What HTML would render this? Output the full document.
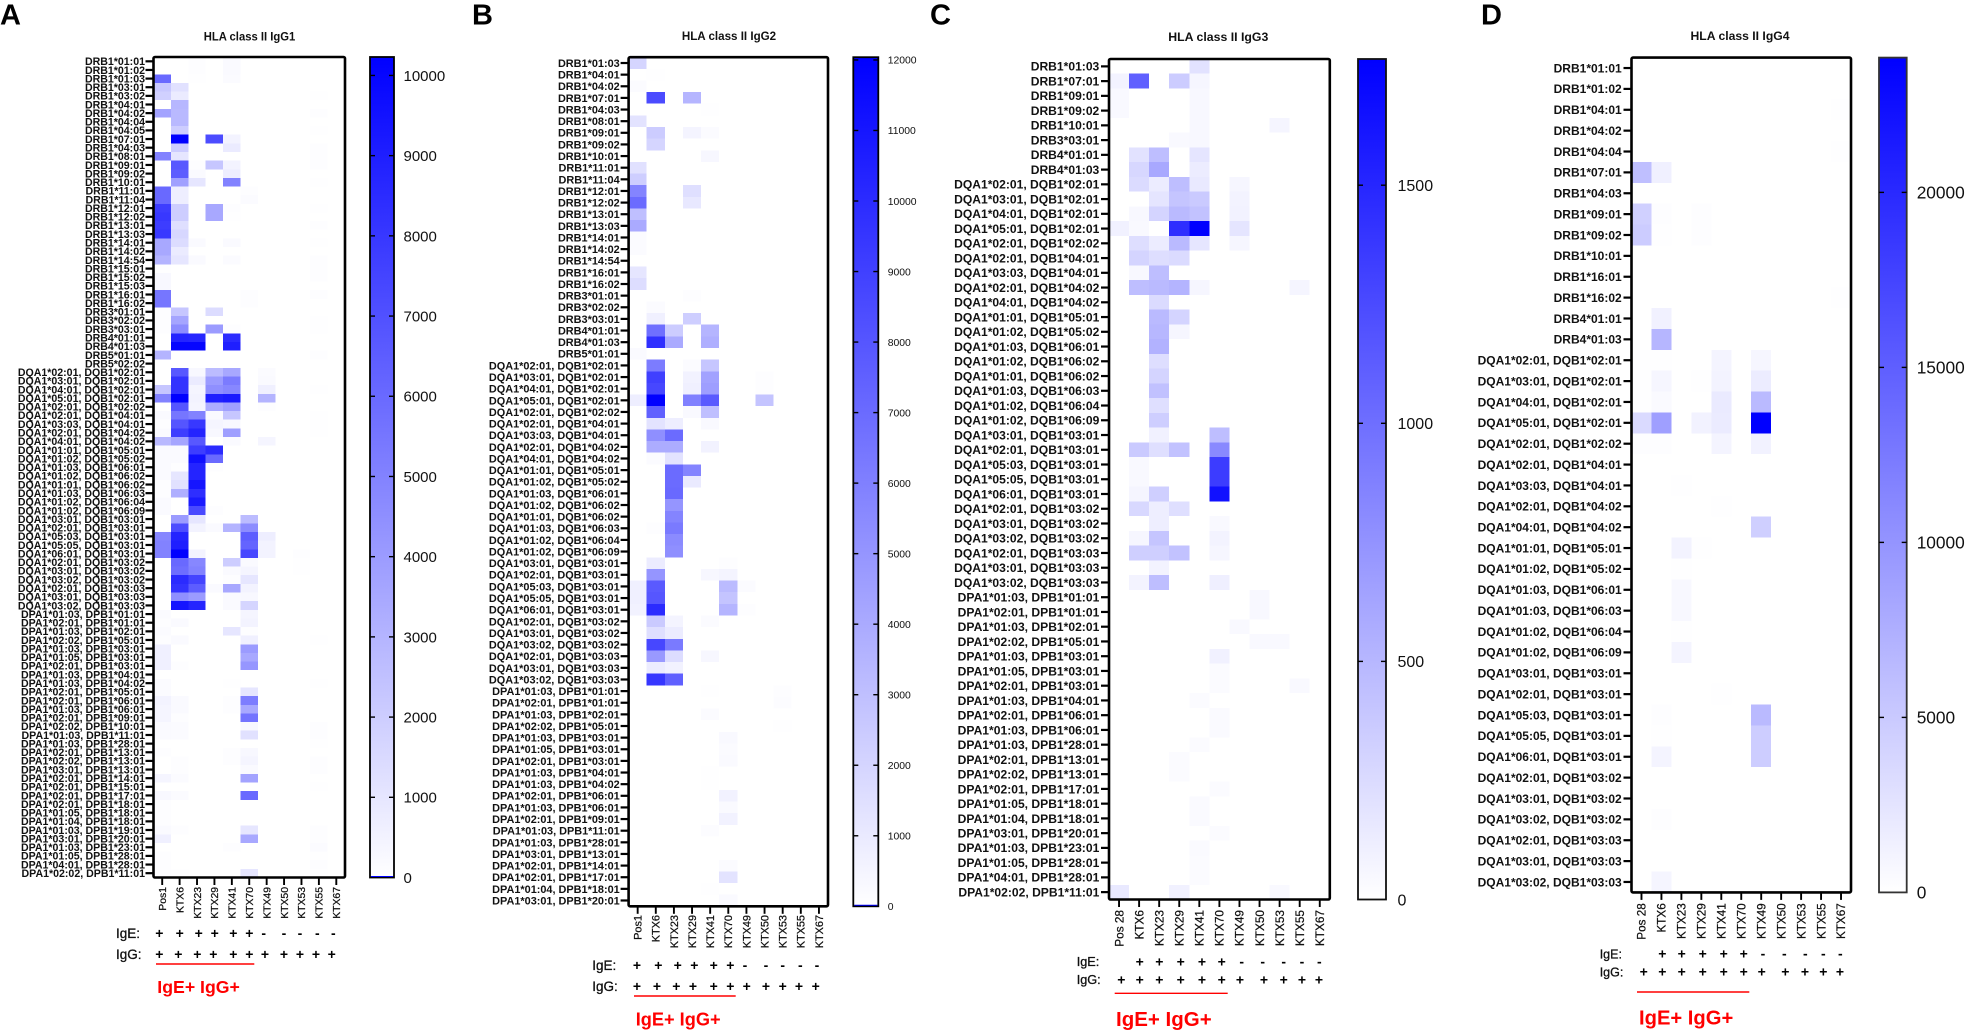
<!DOCTYPE html>
<html lang="en">
<head>
<meta charset="utf-8">
<title>HLA class II IgG1-4 heatmaps</title>
<style>
html,body{margin:0;padding:0;background:#fff;width:1966px;height:1035px;overflow:hidden}
svg{display:block;font-family:"Liberation Sans",Arial,sans-serif}
.letter{font-size:29px;font-weight:bold;fill:#000}
.title{font-size:11.5px;font-weight:bold;fill:#111;text-anchor:middle}
.iglabel{fill:#111;stroke:#111;stroke-width:.3}
.marks{font-size:14px;font-weight:bold;fill:#000;text-anchor:middle}
.red{fill:#f00;font-weight:bold}
</style>
</head>
<body>
<svg id="figure" xmlns="http://www.w3.org/2000/svg" width="1966" height="1035" viewBox="0 0 1966 1035">
<defs>
<linearGradient id="scale-gradient" x1="0" y1="1" x2="0" y2="0">
<stop offset="0" stop-color="#ffffff"/>
<stop offset="1" stop-color="#0000ff"/>
</linearGradient>
</defs>
<rect width="1966" height="1035" fill="#fff"/>

<g>
<text class="letter" x="0" y="24.7">A</text>
<text class="title" x="249.5" y="40.7" textLength="91.6" lengthAdjust="spacingAndGlyphs">HLA class II IgG1</text>
<text class="iglabel" x="116" y="938" font-size="13.5">IgE:</text>
<text class="iglabel" x="116" y="959" font-size="13.5">IgG:</text>
<text class="marks" x="159.3 179.7 198.7 214.7 233.3 249.3 263.7 284 300 317.3 333.3" y="938">++++++-----</text>
<text class="marks" x="159.3 178.3 197.3 213.3 233.3 249.3 265 284 300 316 331.7" y="959">+++++++++++</text>
<line x1="156" x2="254.3" y1="964" y2="964" stroke="#f00" stroke-width="1.4"/>
<text class="red" x="157.3" y="993" font-size="17.7">IgE+ IgG+</text>
</g>

<g>
<text class="letter" x="472" y="24.7">B</text>
<text class="title" x="729" y="40" textLength="94.3" lengthAdjust="spacingAndGlyphs">HLA class II IgG2</text>
<text class="iglabel" x="592.3" y="970" font-size="13.5">IgE:</text>
<text class="iglabel" x="592.3" y="991" font-size="13.5">IgG:</text>
<text class="marks" x="637 658.3 677.7 694.3 713.7 730.3 745 766 782.7 800.3 817" y="970">++++++-----</text>
<text class="marks" x="637 657 676.3 693 713.7 730.3 746.7 766 782.7 799 815.7" y="991">+++++++++++</text>
<line x1="634" x2="735.7" y1="996" y2="996" stroke="#f00" stroke-width="1.4"/>
<text class="red" x="635.7" y="1025.5" font-size="18.2">IgE+ IgG+</text>
</g>

<g>
<text class="letter" x="930" y="24.7">C</text>
<text class="title" x="1218.3" y="41" textLength="100" lengthAdjust="spacingAndGlyphs">HLA class II IgG3</text>
<text class="iglabel" x="1076.7" y="966" font-size="12.7">IgE:</text>
<text class="iglabel" x="1076.7" y="984" font-size="12.7">IgG:</text>
<text class="marks" x="1139.7 1159.3 1180.7 1202 1221.7 1241.7 1262.7 1283.7 1302 1319.3" y="966.5">+++++-----</text>
<text class="marks" x="1121.3 1139.7 1159.3 1180.7 1202 1221.7 1240 1264 1283.7 1302 1319" y="984.5">+++++++++++</text>
<line x1="1114.7" x2="1227.7" y1="993.3" y2="993.3" stroke="#f00" stroke-width="1.4"/>
<text class="red" x="1116" y="1026" font-size="20.5">IgE+ IgG+</text>
</g>

<g>
<text class="letter" x="1481" y="24.7">D</text>
<text class="title" x="1740" y="40" textLength="99" lengthAdjust="spacingAndGlyphs">HLA class II IgG4</text>
<text class="iglabel" x="1599.7" y="958.5" font-size="12.5">IgE:</text>
<text class="iglabel" x="1599.7" y="976.5" font-size="12.5">IgG:</text>
<text class="marks" x="1662.3 1681.7 1702.7 1723.7 1743.7 1763 1784.3 1805.3 1823.3 1840.3" y="958.7">+++++-----</text>
<text class="marks" x="1643.7 1662.3 1681.7 1702.7 1723.7 1743.7 1761.7 1785.3 1805 1823.3 1840" y="976.7">+++++++++++</text>
<line x1="1637" x2="1749.3" y1="992" y2="992" stroke="#f00" stroke-width="1.4"/>
<text class="red" x="1639" y="1024.7" font-size="20.2">IgE+ IgG+</text>
</g>
</svg>

<script>
const colsA = ['Pos1','KTX6','KTX23','KTX29','KTX41','KTX70','KTX49','KTX50','KTX53','KTX55','KTX67'];
const colsB = ['Pos1','KTX6','KTX23','KTX29','KTX41','KTX70','KTX49','KTX50','KTX53','KTX55','KTX67'];
const colsC = ['Pos 28','KTX6','KTX23','KTX29','KTX41','KTX70','KTX49','KTX50','KTX53','KTX55','KTX67'];
const colsD = ['Pos 28','KTX6','KTX23','KTX29','KTX41','KTX70','KTX49','KTX50','KTX53','KTX55','KTX67'];

const rowsA = ['DRB1*01:01','DRB1*01:02','DRB1*01:03','DRB1*03:01','DRB1*03:02','DRB1*04:01','DRB1*04:02','DRB1*04:04','DRB1*04:05','DRB1*07:01','DRB1*04:03','DRB1*08:01','DRB1*09:01','DRB1*09:02','DRB1*10:01','DRB1*11:01','DRB1*11:04','DRB1*12:01','DRB1*12:02','DRB1*13:01','DRB1*13:03','DRB1*14:01','DRB1*14:02','DRB1*14:54','DRB1*15:01','DRB1*15:02','DRB1*15:03','DRB1*16:01','DRB1*16:02','DRB3*01:01','DRB3*02:02','DRB3*03:01','DRB4*01:01','DRB4*01:03','DRB5*01:01','DRB5*02:02',
'DQA1*02:01, DQB1*02:01','DQA1*03:01, DQB1*02:01','DQA1*04:01, DQB1*02:01','DQA1*05:01, DQB1*02:01','DQA1*02:01, DQB1*02:02','DQA1*02:01, DQB1*04:01','DQA1*03:03, DQB1*04:01','DQA1*02:01, DQB1*04:02','DQA1*04:01, DQB1*04:02','DQA1*01:01, DQB1*05:01','DQA1*01:02, DQB1*05:02','DQA1*01:03, DQB1*06:01','DQA1*01:02, DQB1*06:02','DQA1*01:01, DQB1*06:02','DQA1*01:03, DQB1*06:03','DQA1*01:02, DQB1*06:04','DQA1*01:02, DQB1*06:09','DQA1*03:01, DQB1*03:01','DQA1*02:01, DQB1*03:01','DQA1*05:03, DQB1*03:01','DQA1*05:05, DQB1*03:01','DQA1*06:01, DQB1*03:01','DQA1*02:01, DQB1*03:02','DQA1*03:01, DQB1*03:02','DQA1*03:02, DQB1*03:02','DQA1*02:01, DQB1*03:03','DQA1*03:01, DQB1*03:03','DQA1*03:02, DQB1*03:03',
'DPA1*01:03, DPB1*01:01','DPA1*02:01, DPB1*01:01','DPA1*01:03, DPB1*02:01','DPA1*02:02, DPB1*05:01','DPA1*01:03, DPB1*03:01','DPA1*01:05, DPB1*03:01','DPA1*02:01, DPB1*03:01','DPA1*01:03, DPB1*04:01','DPA1*01:03, DPB1*04:02','DPA1*02:01, DPB1*05:01','DPA1*02:01, DPB1*06:01','DPA1*01:03, DPB1*06:01','DPA1*02:01, DPB1*09:01','DPA1*02:02, DPB1*10:01','DPA1*01:03, DPB1*11:01','DPA1*01:03, DPB1*28:01','DPA1*02:01, DPB1*13:01','DPA1*02:02, DPB1*13:01','DPA1*03:01, DPB1*13:01','DPA1*02:01, DPB1*14:01','DPA1*02:01, DPB1*15:01','DPA1*02:01, DPB1*17:01','DPA1*02:01, DPB1*18:01','DPA1*01:05, DPB1*18:01','DPA1*01:04, DPB1*18:01','DPA1*01:03, DPB1*19:01','DPA1*03:01, DPB1*20:01','DPA1*01:03, DPB1*23:01','DPA1*01:05, DPB1*28:01','DPA1*04:01, DPB1*28:01','DPA1*02:02, DPB1*11:01'];

const valuesA = [
[0,0,100,0,200,0,0,0,0,0,0],
[0,0,100,0,200,0,0,0,0,0,0],
[6000,0,50,0,150,0,0,0,0,0,0],
[2200,1200,0,0,0,0,0,0,0,0,0],
[1900,800,0,0,0,0,0,0,0,50,0],
[0,2900,0,0,0,0,0,0,0,0,0],
[3700,2800,0,0,0,0,0,0,0,80,0],
[0,2800,0,0,0,0,0,0,0,0,0],
[0,2000,0,0,0,0,0,0,0,50,0],
[0,10200,0,7200,500,0,0,0,0,0,0],
[0,2000,0,0,800,0,0,0,0,100,0],
[5000,1000,0,0,0,0,0,0,0,80,0],
[0,6700,100,2300,500,0,0,0,0,80,0],
[0,6500,200,0,700,0,0,0,0,0,0],
[0,3800,1000,0,5000,0,0,0,0,60,0],
[6000,700,0,0,0,100,0,0,0,0,0],
[6000,700,0,0,0,150,0,0,0,0,0],
[7800,2000,0,3500,100,0,0,0,0,50,0],
[8000,2000,0,3500,50,0,0,0,0,0,0],
[7800,1300,0,0,0,0,0,0,0,80,0],
[8000,1600,0,0,0,0,0,0,0,0,0],
[3500,1400,200,0,200,0,0,0,0,60,0],
[3500,800,0,0,0,0,0,0,0,0,0],
[3000,1000,200,0,150,0,0,0,0,80,0],
[50,0,0,0,0,0,0,0,0,80,0],
[300,0,0,0,0,0,0,0,0,80,0],
[300,0,0,0,0,0,0,0,0,0,0],
[5500,0,0,0,0,100,0,0,0,80,0],
[5500,0,0,0,0,100,0,0,0,0,0],
[100,2300,0,1400,0,0,0,0,0,0,0],
[100,3600,0,0,0,0,0,0,0,50,0],
[100,4600,0,4000,100,0,0,0,0,50,0],
[0,8800,8700,0,8500,0,0,0,0,0,0],
[0,10000,10000,0,9000,0,0,0,0,0,0],
[3000,0,0,0,0,0,0,0,0,100,0],
[0,0,0,0,0,0,0,0,0,0,0],
[0,6700,300,2700,3500,0,150,0,0,0,0],
[0,8200,800,4000,5300,0,200,0,0,0,0],
[2300,8200,400,4500,4800,0,600,0,0,60,0],
[5000,10200,500,9000,9200,0,3000,0,0,0,0],
[0,6800,400,3300,3800,0,100,0,0,0,0],
[200,5500,5000,200,2300,0,0,0,0,50,0],
[100,6800,8000,400,300,0,0,0,0,50,0],
[200,7800,8800,300,3900,0,0,0,0,50,0],
[2800,3600,6700,0,200,0,400,0,0,0,0],
[200,200,7800,8500,0,0,0,0,0,0,0],
[200,200,9600,6000,0,0,0,0,0,0,0],
[200,100,8800,100,0,0,0,0,0,0,0],
[200,1000,8800,0,0,0,0,0,0,0,0],
[100,1200,9400,0,0,0,0,0,0,0,0],
[100,3200,8400,0,0,0,0,0,0,0,0],
[200,0,9200,0,0,0,0,0,0,0,0],
[200,0,7300,100,0,0,0,0,0,0,0],
[0,4000,1000,0,0,2700,0,0,0,0,0],
[0,7200,500,200,3000,4600,0,0,0,0,0],
[4800,8800,0,0,0,6500,700,0,0,0,0],
[5000,9000,0,0,0,6200,500,0,0,0,0],
[5000,10200,500,0,0,7400,500,0,80,0,0],
[0,6000,4800,0,2000,200,0,0,60,0,0],
[0,5800,5000,0,200,400,0,0,50,0,0],
[0,8500,7500,0,100,1000,0,0,0,0,0],
[0,8200,6500,200,3500,500,0,0,0,0,0],
[0,4500,4000,0,200,300,0,0,0,0,0],
[0,9400,8800,0,200,1700,0,0,0,0,0],
[150,0,0,0,0,400,0,0,0,0,0],
[100,200,0,0,0,500,0,0,0,0,0],
[150,0,0,0,1000,100,0,0,0,0,0],
[100,200,0,0,0,600,0,0,0,60,0],
[600,0,0,0,0,4000,0,0,0,0,0],
[600,0,0,0,0,3500,0,0,0,0,0],
[600,100,0,0,0,4200,0,0,0,0,0],
[0,0,0,0,0,0,0,0,0,0,0],
[150,0,0,0,50,0,0,0,0,40,0],
[150,0,0,0,0,1000,0,0,0,0,0],
[500,200,0,0,100,5200,0,0,0,0,0],
[400,200,0,0,100,3500,0,0,0,0,0],
[400,100,0,0,0,5600,0,0,0,0,0],
[200,150,0,0,0,300,0,0,0,80,0],
[200,150,0,0,0,1200,0,0,0,80,0],
[0,0,0,0,0,0,0,0,0,50,0],
[100,0,0,0,100,300,0,0,0,0,0],
[0,100,0,0,100,400,0,0,0,100,0],
[0,100,0,0,0,200,0,0,0,100,0],
[400,150,0,0,0,3700,0,0,0,0,0],
[0,0,0,0,0,0,0,0,0,60,0],
[300,150,0,0,0,6000,0,0,0,0,0],
[100,0,0,0,0,0,0,0,0,0,0],
[100,0,0,0,0,0,0,0,0,0,0],
[100,0,0,0,0,0,0,0,0,0,0],
[200,100,0,0,0,1000,0,0,0,80,0],
[600,0,0,0,0,3500,0,0,0,80,0],
[0,0,0,0,100,0,0,0,0,150,0],
[100,0,0,0,0,0,0,0,0,50,0],
[100,0,0,0,0,0,0,0,0,80,0],
[100,50,0,0,0,1000,0,0,0,50,0]
];

const ticksA = [0,1000,2000,3000,4000,5000,6000,7000,8000,9000,10000];

const rowsB = ['DRB1*01:03','DRB1*04:01','DRB1*04:02','DRB1*07:01','DRB1*04:03','DRB1*08:01','DRB1*09:01','DRB1*09:02','DRB1*10:01','DRB1*11:01','DRB1*11:04','DRB1*12:01','DRB1*12:02','DRB1*13:01','DRB1*13:03','DRB1*14:01','DRB1*14:02','DRB1*14:54','DRB1*16:01','DRB1*16:02','DRB3*01:01','DRB3*02:02','DRB3*03:01','DRB4*01:01','DRB4*01:03','DRB5*01:01',
'DQA1*02:01, DQB1*02:01','DQA1*03:01, DQB1*02:01','DQA1*04:01, DQB1*02:01','DQA1*05:01, DQB1*02:01','DQA1*02:01, DQB1*02:02','DQA1*02:01, DQB1*04:01','DQA1*03:03, DQB1*04:01','DQA1*02:01, DQB1*04:02','DQA1*04:01, DQB1*04:02','DQA1*01:01, DQB1*05:01','DQA1*01:02, DQB1*05:02','DQA1*01:03, DQB1*06:01','DQA1*01:02, DQB1*06:02','DQA1*01:01, DQB1*06:02','DQA1*01:03, DQB1*06:03','DQA1*01:02, DQB1*06:04','DQA1*01:02, DQB1*06:09','DQA1*03:01, DQB1*03:01','DQA1*02:01, DQB1*03:01','DQA1*05:03, DQB1*03:01','DQA1*05:05, DQB1*03:01','DQA1*06:01, DQB1*03:01','DQA1*02:01, DQB1*03:02','DQA1*03:01, DQB1*03:02','DQA1*03:02, DQB1*03:02','DQA1*02:01, DQB1*03:03','DQA1*03:01, DQB1*03:03','DQA1*03:02, DQB1*03:03',
'DPA1*01:03, DPB1*01:01','DPA1*02:01, DPB1*01:01','DPA1*01:03, DPB1*02:01','DPA1*02:02, DPB1*05:01','DPA1*01:03, DPB1*03:01','DPA1*01:05, DPB1*03:01','DPA1*02:01, DPB1*03:01','DPA1*01:03, DPB1*04:01','DPA1*01:03, DPB1*04:02','DPA1*02:01, DPB1*06:01','DPA1*01:03, DPB1*06:01','DPA1*02:01, DPB1*09:01','DPA1*01:03, DPB1*11:01','DPA1*01:03, DPB1*28:01','DPA1*03:01, DPB1*13:01','DPA1*02:01, DPB1*14:01','DPA1*02:01, DPB1*17:01','DPA1*01:04, DPB1*18:01','DPA1*03:01, DPB1*20:01'];

const valuesB = [
[2000,0,0,0,0,0,0,0,0,0,0],
[0,50,0,0,0,0,0,0,0,0,0],
[200,0,0,0,0,0,0,0,0,0,0],
[0,8500,0,3500,0,0,0,0,0,0,0],
[0,0,0,0,50,0,0,0,0,0,0],
[1300,0,0,0,0,0,0,0,0,0,0],
[0,2400,0,500,200,0,0,0,0,0,0],
[0,2000,0,0,0,0,0,0,0,0,0],
[0,0,0,0,400,0,0,0,0,0,0],
[1400,0,0,0,0,0,0,0,0,0,0],
[2300,0,0,0,0,0,0,0,0,0,0],
[5800,0,0,1500,0,0,0,0,0,0,0],
[7000,0,0,1100,0,0,0,0,0,0,0],
[3000,0,0,0,0,0,0,0,0,0,0],
[4000,0,0,0,0,0,0,0,0,0,0],
[200,0,0,0,0,0,0,0,0,0,0],
[200,0,0,0,0,0,0,0,0,0,0],
[0,0,0,0,0,0,0,0,0,0,0],
[1200,0,0,0,0,0,0,0,0,0,0],
[1600,0,0,0,0,0,0,0,0,0,0],
[0,0,0,100,0,0,0,0,0,0,0],
[0,200,0,0,0,0,0,0,0,0,0],
[0,700,0,2300,0,0,0,0,0,0,0],
[0,6800,2400,0,3500,0,0,0,0,0,0],
[0,9800,4000,0,3800,0,0,0,0,0,0],
[250,0,0,0,0,0,0,0,0,0,0],
[0,6200,0,200,2700,0,0,0,0,0,0],
[0,9000,0,600,4400,0,0,100,0,0,0],
[0,8700,0,700,4600,0,0,100,0,0,0],
[800,12000,0,6000,7800,0,0,2800,0,0,0],
[0,7500,0,300,3000,0,0,0,0,0,0],
[0,1300,800,0,300,0,0,0,0,0,0],
[0,5300,7000,0,0,0,0,0,0,0,0],
[0,3900,3900,0,600,0,0,0,0,0,0],
[0,200,1300,0,0,0,0,0,0,0,0],
[0,0,7000,5800,0,0,0,0,0,0,0],
[0,0,7000,1000,0,0,0,0,0,0,0],
[0,0,7100,0,0,0,0,0,0,0,0],
[0,0,5000,0,0,0,0,0,0,0,0],
[0,0,5800,0,0,0,0,0,0,0,0],
[0,100,6300,0,0,0,0,0,0,0,0],
[0,0,5500,0,0,0,0,0,0,0,0],
[0,0,5300,0,0,0,0,0,0,0,0],
[0,900,0,0,0,100,0,0,0,0,0],
[0,5000,0,0,400,500,0,0,0,0,0],
[700,7800,0,0,0,3200,200,0,0,0,0],
[700,8000,0,0,0,2800,0,0,0,0,0],
[600,10000,0,0,0,3500,100,0,0,0,0],
[0,2500,500,0,200,0,0,0,0,0,0],
[0,1500,900,0,0,0,0,0,0,0,0],
[0,8700,6300,0,0,0,0,0,0,0,0],
[0,4800,1600,0,400,0,0,0,0,0,0],
[0,900,600,0,0,0,0,0,0,0,0],
[0,9500,7500,0,0,0,0,0,0,0,0],
[0,0,0,0,50,0,0,0,100,0,0],
[0,0,0,0,0,0,0,0,150,0,0],
[0,0,0,0,200,0,0,0,0,0,0],
[0,0,0,0,0,0,0,0,50,0,0],
[0,0,0,0,0,300,0,0,0,0,0],
[0,0,0,0,0,200,0,0,0,0,0],
[0,0,0,0,0,250,0,0,0,0,0],
[0,0,0,0,50,0,0,0,0,0,0],
[0,0,0,0,50,0,0,0,0,0,0],
[0,0,0,0,0,600,0,0,0,0,0],
[0,0,0,0,0,250,0,0,0,0,0],
[0,0,0,0,0,600,0,0,0,0,0],
[0,0,0,0,150,0,0,0,0,0,0],
[0,0,0,0,0,0,0,0,0,0,0],
[0,0,0,0,0,0,0,0,0,0,0],
[0,0,0,0,0,200,0,0,0,0,0],
[0,0,0,0,0,1300,0,0,0,0,0],
[0,0,0,0,50,0,0,0,0,0,0],
[0,0,0,0,0,250,0,0,0,0,0]
];

const ticksB = [0,1000,2000,3000,4000,5000,6000,7000,8000,9000,10000,11000,12000];

const rowsC = ['DRB1*01:03','DRB1*07:01','DRB1*09:01','DRB1*09:02','DRB1*10:01','DRB3*03:01','DRB4*01:01','DRB4*01:03',
'DQA1*02:01, DQB1*02:01','DQA1*03:01, DQB1*02:01','DQA1*04:01, DQB1*02:01','DQA1*05:01, DQB1*02:01','DQA1*02:01, DQB1*02:02','DQA1*02:01, DQB1*04:01','DQA1*03:03, DQB1*04:01','DQA1*02:01, DQB1*04:02','DQA1*04:01, DQB1*04:02','DQA1*01:01, DQB1*05:01','DQA1*01:02, DQB1*05:02','DQA1*01:03, DQB1*06:01','DQA1*01:02, DQB1*06:02','DQA1*01:01, DQB1*06:02','DQA1*01:03, DQB1*06:03','DQA1*01:02, DQB1*06:04','DQA1*01:02, DQB1*06:09','DQA1*03:01, DQB1*03:01','DQA1*02:01, DQB1*03:01','DQA1*05:03, DQB1*03:01','DQA1*05:05, DQB1*03:01','DQA1*06:01, DQB1*03:01','DQA1*02:01, DQB1*03:02','DQA1*03:01, DQB1*03:02','DQA1*03:02, DQB1*03:02','DQA1*02:01, DQB1*03:03','DQA1*03:01, DQB1*03:03','DQA1*03:02, DQB1*03:03',
'DPA1*01:03, DPB1*01:01','DPA1*02:01, DPB1*01:01','DPA1*01:03, DPB1*02:01','DPA1*02:02, DPB1*05:01','DPA1*01:03, DPB1*03:01','DPA1*01:05, DPB1*03:01','DPA1*02:01, DPB1*03:01','DPA1*01:03, DPB1*04:01','DPA1*02:01, DPB1*06:01','DPA1*01:03, DPB1*06:01','DPA1*01:03, DPB1*28:01','DPA1*02:01, DPB1*13:01','DPA1*02:02, DPB1*13:01','DPA1*02:01, DPB1*17:01','DPA1*01:05, DPB1*18:01','DPA1*01:04, DPB1*18:01','DPA1*03:01, DPB1*20:01','DPA1*01:03, DPB1*23:01','DPA1*01:05, DPB1*28:01','DPA1*04:01, DPB1*28:01','DPA1*02:02, DPB1*11:01'];

const valuesC = [
[0,0,0,0,200,0,0,0,0,0,0],
[80,1100,0,350,60,0,0,0,0,0,0],
[40,0,0,0,50,0,0,0,0,0,0],
[40,0,0,0,50,0,0,0,0,0,0],
[0,0,0,0,50,0,0,0,70,0,0],
[0,0,0,40,50,0,0,0,0,0,0],
[0,200,450,0,180,0,0,0,0,0,0],
[0,280,600,0,130,0,0,0,0,0,0],
[0,250,130,450,150,0,60,0,0,0,0],
[0,0,180,400,370,0,80,0,0,0,0],
[0,50,300,480,420,0,90,0,0,0,0],
[100,40,0,1450,1765,0,180,0,0,0,0],
[0,230,130,480,170,0,60,0,0,0,0],
[0,300,230,250,0,0,0,0,0,0,0],
[0,50,450,0,0,0,0,0,0,0,0],
[0,450,480,520,60,0,0,0,0,70,0],
[0,0,250,0,0,0,0,0,0,0,0],
[0,0,480,300,0,0,0,0,0,0,0],
[0,0,500,60,0,0,0,0,0,0,0],
[0,0,530,0,0,0,0,0,0,0,0],
[0,0,230,0,0,0,0,0,0,0,0],
[0,0,300,0,0,0,0,0,0,0,0],
[0,0,430,0,0,0,0,0,0,0,0],
[0,0,220,0,0,0,0,0,0,0,0],
[0,0,340,0,0,0,0,0,0,0,0],
[0,0,100,0,0,450,0,0,0,0,0],
[0,370,220,420,0,820,0,0,0,0,0],
[0,40,0,0,0,1350,0,0,0,0,0],
[0,40,0,0,0,1350,0,0,0,0,0],
[0,70,330,0,0,1650,0,0,0,0,0],
[0,270,120,220,0,0,0,0,0,0,0],
[0,0,120,0,0,40,0,0,0,0,0],
[0,60,400,0,0,80,0,0,0,0,0],
[0,330,330,420,0,60,0,0,0,0,0],
[0,0,80,0,0,0,0,0,0,0,0],
[0,80,450,0,0,110,0,0,0,0,0],
[0,0,0,0,0,0,0,50,0,0,0],
[0,0,0,0,0,0,0,50,0,0,0],
[0,0,0,0,0,0,40,0,0,0,0],
[0,0,0,0,0,0,0,40,40,0,0],
[0,0,0,0,0,100,0,0,0,0,0],
[0,0,0,0,0,30,0,0,0,0,0],
[0,0,0,0,0,30,0,0,0,40,0],
[0,0,0,0,30,0,0,0,0,0,0],
[0,0,0,0,0,35,0,0,0,0,0],
[0,0,0,0,0,35,0,0,0,0,0],
[0,0,0,0,30,0,0,0,0,0,0],
[0,0,0,30,0,0,0,0,0,0,0],
[0,0,0,30,0,0,0,0,0,0,0],
[0,0,0,0,0,30,0,0,0,0,0],
[0,0,0,0,35,0,0,0,0,0,0],
[0,0,0,0,35,0,0,0,0,0,0],
[0,0,0,0,0,30,0,0,0,0,0],
[0,0,0,0,35,0,0,0,0,0,0],
[0,0,0,0,30,0,0,0,0,0,0],
[0,0,0,0,30,0,0,0,0,0,0],
[150,0,0,100,0,0,0,0,40,0,0]
];

const ticksC = [0,500,1000,1500];

const rowsD = ['DRB1*01:01','DRB1*01:02','DRB1*04:01','DRB1*04:02','DRB1*04:04','DRB1*07:01','DRB1*04:03','DRB1*09:01','DRB1*09:02','DRB1*10:01','DRB1*16:01','DRB1*16:02','DRB4*01:01','DRB4*01:03',
'DQA1*02:01, DQB1*02:01','DQA1*03:01, DQB1*02:01','DQA1*04:01, DQB1*02:01','DQA1*05:01, DQB1*02:01','DQA1*02:01, DQB1*02:02','DQA1*02:01, DQB1*04:01','DQA1*03:03, DQB1*04:01','DQA1*02:01, DQB1*04:02','DQA1*04:01, DQB1*04:02','DQA1*01:01, DQB1*05:01','DQA1*01:02, DQB1*05:02','DQA1*01:03, DQB1*06:01','DQA1*01:03, DQB1*06:03','DQA1*01:02, DQB1*06:04','DQA1*01:02, DQB1*06:09','DQA1*03:01, DQB1*03:01','DQA1*02:01, DQB1*03:01','DQA1*05:03, DQB1*03:01','DQA1*05:05, DQB1*03:01','DQA1*06:01, DQB1*03:01','DQA1*02:01, DQB1*03:02','DQA1*03:01, DQB1*03:02','DQA1*03:02, DQB1*03:02','DQA1*02:01, DQB1*03:03','DQA1*03:01, DQB1*03:03','DQA1*03:02, DQB1*03:03'];

const valuesD = [
[0,0,0,0,0,0,0,0,0,0,0],
[0,0,0,0,0,0,0,0,0,0,0],
[0,0,0,0,0,0,0,0,0,0,80],
[0,0,0,0,0,0,0,0,0,0,0],
[0,0,0,0,0,0,0,0,0,0,80],
[6000,1400,0,0,0,0,0,0,0,0,0],
[0,0,0,0,0,0,0,0,0,0,0],
[4400,200,0,150,0,0,0,0,0,0,0],
[4800,100,0,150,0,0,0,0,0,0,0],
[0,0,0,0,0,0,0,0,0,0,0],
[0,0,0,0,0,0,0,0,0,0,0],
[0,0,0,0,0,0,0,0,0,0,80],
[0,1300,0,0,0,0,0,0,0,0,0],
[0,6800,0,0,0,0,0,0,0,0,0],
[50,50,0,0,1000,0,800,0,0,0,0],
[100,800,0,100,1100,0,1800,0,0,0,0],
[100,500,0,0,2000,0,6500,0,0,0,0],
[3500,9000,0,1200,1900,0,23850,0,0,0,0],
[200,200,0,0,1000,0,1200,0,0,0,0],
[0,0,0,0,0,0,0,0,0,0,0],
[0,0,50,0,0,0,0,0,0,0,0],
[0,0,0,0,80,0,0,0,0,0,0],
[0,0,0,0,0,0,4500,0,0,0,0],
[0,0,1100,50,0,0,0,0,0,0,0],
[0,0,50,0,0,0,0,0,0,0,0],
[0,0,700,0,0,0,0,0,0,0,0],
[0,0,700,0,0,0,0,0,0,0,0],
[0,0,100,0,0,0,0,0,0,0,0],
[0,0,1000,0,0,0,0,0,0,0,0],
[0,0,0,0,0,0,30,0,0,0,0],
[0,0,0,0,80,0,0,0,0,0,0],
[0,200,0,0,0,0,6500,0,0,0,0],
[0,100,0,0,0,0,4700,0,0,0,0],
[0,1000,0,0,0,0,4700,0,0,0,0],
[0,0,0,0,0,0,0,0,0,0,0],
[0,0,0,0,0,0,0,0,0,0,0],
[0,150,0,0,0,0,0,0,0,0,0],
[0,0,0,0,40,0,0,0,0,0,0],
[0,0,0,0,0,0,0,0,0,0,0],
[0,900,40,0,0,0,0,0,0,0,0]
];

const ticksD = [0,5000,10000,15000,20000];

const SVG_NS = 'http://www.w3.org/2000/svg';
const figure = document.getElementById('figure');

function shape(tag, attrs, parent) {
  const el = document.createElementNS(SVG_NS, tag);
  for (const key in attrs) el.setAttribute(key, attrs[key]);
  parent.appendChild(el);
  return el;
}

function drawPanel(p) {
  const bandX = (p.right - p.left) / p.cols.length;
  const bandY = (p.bottom - p.top) / p.rows.length;
  const xScale = i => p.left + i * bandX;
  const yScale = i => p.top + i * bandY;
  const barScale = v => p.bottom - (v / p.max) * (p.bottom - p.top);
  const colorScale = v => {
    const t = Math.max(0, Math.min(1, v / p.max));
    const c = Math.round(255 * (1 - t));
    return 'rgb(' + c + ',' + c + ',255)';
  };

  const panel = shape('g', {}, figure);
  
  

  p.values.forEach((row, r) => {
    row.forEach((value, c) => {
      const cell = shape('rect', {
        x: xScale(c), y: yScale(r), width: bandX + 0.2, height: bandY + 0.2,
        fill: colorScale(value), 'shape-rendering': 'crispEdges'
      }, panel);
      
      
    });
  });

  const frame = shape('rect', {
    x: p.left, y: p.top, width: p.right - p.left, height: p.bottom - p.top,
    fill: 'none', stroke: '#000', 'stroke-width': 2.6, rx: 1.5
  }, panel);
  
  

  p.rows.forEach((label, r) => {
    const cy = yScale(r) + bandY / 2;
    const tick = shape('line', {
      x1: p.left - 8, x2: p.left, y1: cy, y2: cy, stroke: '#000', 'stroke-width': 2.2
    }, panel);
    
    
    const text = shape('text', {
      x: p.labelRight, y: cy + p.labelSize * 0.36, 'text-anchor': 'end',
      'font-size': p.labelSize, 'font-weight': 'bold', fill: '#111'
    }, panel);
    
    
    text.textContent = label;
  });

  p.cols.forEach((label, c) => {
    const cx = xScale(c) + bandX / 2;
    const tick = shape('line', {
      x1: cx, x2: cx, y1: p.bottom, y2: p.bottom + 7.5, stroke: '#000', 'stroke-width': 1.9
    }, panel);
    
    
    const tx = cx + p.colSize * 0.36;
    const text = shape('text', {
      x: tx, y: p.colTop, 'text-anchor': 'end', 'font-size': p.colSize,
      fill: '#111', stroke: '#111', 'stroke-width': 0.25,
      transform: 'rotate(-90 ' + tx + ' ' + p.colTop + ')'
    }, panel);
    
    
    text.textContent = label;
  });

  const bar = shape('rect', {
    x: p.barLeft, y: p.top, width: p.barRight - p.barLeft, height: p.bottom - p.top,
    fill: 'url(#scale-gradient)', stroke: p.barStroke, 'stroke-width': 1.8
  }, panel);
  
  

  if (p.underflow) {
    const under = shape('line', {
      x1: p.barLeft + 1, x2: p.barRight - 1, y1: p.bottom - 1, y2: p.bottom - 1,
      stroke: '#0000ff', 'stroke-width': 1
    }, panel);
    
    
  }

  p.ticks.forEach(value => {
    const y = barScale(value);
    if (value > 0) {
      const leftTick = shape('line', {
        x1: p.barLeft, x2: p.barLeft + 5, y1: y, y2: y, stroke: '#000', 'stroke-width': 1.4
      }, panel);
      
      
      const rightTick = shape('line', {
        x1: p.barRight - 5, x2: p.barRight, y1: y, y2: y, stroke: '#000', 'stroke-width': 1.4
      }, panel);
      
      
    }
    const text = shape('text', {
      x: p.tickX, y: y + p.tickSize * 0.36, 'font-size': p.tickSize, fill: '#111'
    }, panel);
    
    
    text.textContent = String(value);
  });
}

drawPanel({ id: 'a', rows: rowsA, cols: colsA, values: valuesA, ticks: ticksA, max: 10230,
  left: 153.5, right: 345, top: 57, bottom: 877.5,
  labelRight: 145, labelSize: 10.6, colTop: 887, colSize: 10.4,
  barLeft: 370, barRight: 394, barStroke: '#000', underflow: true, tickX: 403.5, tickSize: 15 });

drawPanel({ id: 'b', rows: rowsB, cols: colsB, values: valuesB, ticks: ticksB, max: 12039,
  left: 628.6, right: 828, top: 57.2, bottom: 906.3,
  labelRight: 619.7, labelSize: 10.9, colTop: 915, colSize: 10.9,
  barLeft: 853.3, barRight: 878.3, barStroke: '#000', underflow: true, tickX: 887.7, tickSize: 10.4 });

drawPanel({ id: 'c', rows: rowsC, cols: colsC, values: valuesC, ticks: ticksC, max: 1765,
  left: 1109, right: 1329.8, top: 59, bottom: 899.5,
  labelRight: 1099.3, labelSize: 12.1, colTop: 910, colSize: 11.8,
  barLeft: 1358, barRight: 1386, barStroke: '#111', underflow: false, tickX: 1397.5, tickSize: 16 });

drawPanel({ id: 'd', rows: rowsD, cols: colsD, values: valuesD, ticks: ticksD, max: 23851,
  left: 1631.5, right: 1851, top: 57.6, bottom: 892.4,
  labelRight: 1621.7, labelSize: 12, colTop: 903.3, colSize: 11.7,
  barLeft: 1879, barRight: 1906.7, barStroke: '#333', underflow: false, tickX: 1916.7, tickSize: 17.3 });
</script>
</body>
</html>
